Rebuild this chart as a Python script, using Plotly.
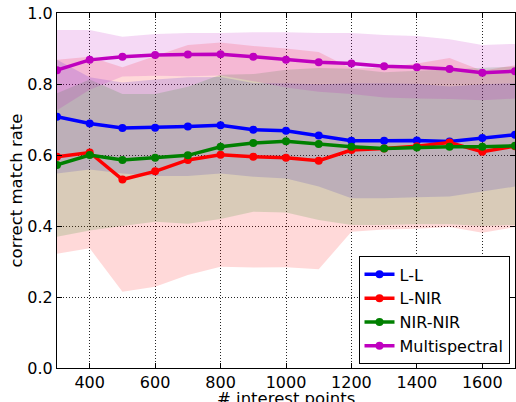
import plotly.graph_objects as go

# number of interest points
x_points = [300, 400, 500, 600, 700, 800, 900, 1000, 1100, 1200, 1300, 1400, 1500, 1600, 1700]

series_names = ["L-L", "L-NIR", "NIR-NIR", "Multispectral"]

mean_ll = [0.708, 0.689, 0.676, 0.677, 0.680, 0.684, 0.671, 0.668, 0.655, 0.640, 0.640, 0.641, 0.638, 0.648, 0.657]
std_ll = [0.160, 0.130, 0.128, 0.136, 0.139, 0.136, 0.132, 0.134, 0.144, 0.162, 0.162, 0.160, 0.155, 0.151, 0.146]

mean_lnir = [0.595, 0.607, 0.531, 0.554, 0.586, 0.601, 0.595, 0.592, 0.584, 0.614, 0.618, 0.625, 0.635, 0.609, 0.625]
std_lnir = [0.273, 0.270, 0.316, 0.325, 0.324, 0.316, 0.312, 0.308, 0.306, 0.230, 0.228, 0.233, 0.238, 0.228, 0.228]

mean_nirnir = [0.572, 0.600, 0.586, 0.592, 0.599, 0.623, 0.634, 0.639, 0.631, 0.623, 0.618, 0.621, 0.623, 0.623, 0.626]
std_nirnir = [0.202, 0.213, 0.186, 0.180, 0.193, 0.203, 0.194, 0.201, 0.214, 0.220, 0.215, 0.216, 0.218, 0.223, 0.223]

mean_ms = [0.839, 0.868, 0.877, 0.882, 0.883, 0.884, 0.877, 0.868, 0.861, 0.858, 0.850, 0.847, 0.842, 0.832, 0.836]
std_ms = [0.113, 0.084, 0.056, 0.059, 0.061, 0.060, 0.069, 0.078, 0.083, 0.086, 0.088, 0.088, 0.084, 0.078, 0.077]

x_ticks = [400, 600, 800, 1000, 1200, 1400, 1600]
y_ticks = [0.0, 0.2, 0.4, 0.6, 0.8, 1.0]

x_title = "# interest points"
y_title = "correct match rate"

means = [mean_ll, mean_lnir, mean_nirnir, mean_ms]
stds = [std_ll, std_lnir, std_nirnir, std_ms]
colors = ["rgb(0,0,255)", "rgb(255,0,0)", "rgb(0,128,0)", "rgb(191,0,191)"]
fills = ["rgba(0,0,255,0.15)", "rgba(255,0,0,0.15)", "rgba(0,128,0,0.15)", "rgba(191,0,191,0.15)"]

FONT = "DejaVu Sans"
fig = go.Figure()

# std bands
for m, s, fc in zip(means, stds, fills):
    upper = [a + b for a, b in zip(m, s)]
    lower = [a - b for a, b in zip(m, s)]
    fig.add_trace(go.Scatter(
        x=x_points + x_points[::-1],
        y=upper + lower[::-1],
        fill="toself", fillcolor=fc, mode="none",
        line=dict(width=0), showlegend=False, hoverinfo="skip",
    ))

# mean lines
for i, (name, m, c) in enumerate(zip(series_names, means, colors)):
    fig.add_trace(go.Scatter(
        x=x_points, y=m, name=name, mode="lines+markers",
        line=dict(color=c, width=3.5),
        marker=dict(color=c, size=8, symbol="circle"),
        legendgroup=f"g{i}",
    ))

axis_common = dict(
    showline=True, linecolor="black", linewidth=1, mirror="ticks",
    ticks="inside", ticklen=5, tickcolor="black", tickwidth=1,
    showgrid=True, gridcolor="rgba(0,0,0,0.85)", gridwidth=1, griddash="1px,2px",
    zeroline=False, automargin=False,
    tickfont=dict(family=FONT, size=16, color="black"),
)

fig.update_layout(
    width=516, height=402,
    margin=dict(l=57, r=1, t=13, b=34),
    paper_bgcolor="white", plot_bgcolor="white",
    font=dict(family=FONT, size=16, color="black"),
    xaxis=dict(range=[300, 1700], tickvals=x_ticks, **axis_common),
    yaxis=dict(
        range=[0, 1], tickvals=y_ticks, tickformat=".1f",
        title=dict(text=y_title, font=dict(family=FONT, size=16.5, color="black"), standoff=0),
        **axis_common,
    ),
    legend=dict(
        x=0.988, y=0.01, xanchor="right", yanchor="bottom",
        bgcolor="white", bordercolor="black", borderwidth=1,
        font=dict(family=FONT, size=16, color="black"),
        traceorder="grouped", tracegroupgap=0,
    ),
    showlegend=True,
    annotations=[dict(
        text=x_title, xref="paper", yref="paper", x=0.5, y=-0.087,
        xanchor="center", yanchor="middle", showarrow=False,
        font=dict(family=FONT, size=16.5, color="black"),
    )],
)

fig.write_html(
    "out.html",
    config={"displayModeBar": False},
    post_script="document.body.style.margin='0';document.body.style.padding='0';document.body.style.overflow='hidden';",
)
